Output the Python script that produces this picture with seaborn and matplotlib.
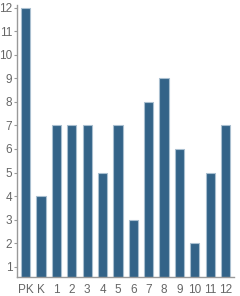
import matplotlib
matplotlib.use("Agg")
import matplotlib.pyplot as plt
import seaborn as sns
import pandas as pd

grades = ["PK", "K", "1", "2", "3", "4", "5", "6", "7", "8", "9", "10", "11", "12"]
students = [12, 4, 7, 7, 7, 5, 7, 3, 8, 9, 6, 2, 5, 7]
yticks = list(range(1, 13))

df = pd.DataFrame({"grade": grades, "students": students})

sns.set_style("white")
plt.rcParams["font.family"] = ["Liberation Sans", "DejaVu Sans"]

fig = plt.figure(figsize=(2.4, 2.96), dpi=100)
ax = fig.add_axes([0.072, 0.065, 0.903, 0.918])

sns.barplot(data=df, x="grade", y="students", order=grades, color="#336388",
            saturation=1, width=0.6, edgecolor="#a9bfd0", linewidth=0.8, ax=ax)

ax.set_xlim(-0.55, 13.55)
ax.set_ylim(0.575, 12.11)
ax.set_yticks(yticks)
ax.set_yticklabels([str(t) for t in yticks])
ax.set_xlabel("")
ax.set_ylabel("")

for s in ["top", "right"]:
    ax.spines[s].set_visible(False)
for s in ["left", "bottom"]:
    ax.spines[s].set_color("#999999")
    ax.spines[s].set_linewidth(1)

ax.tick_params(axis="y", which="major", left=True, length=2.5, width=0.8,
               color="#999999", labelsize=8.5, labelcolor="#666666", pad=1)
ax.tick_params(axis="x", which="major", bottom=False, labelsize=8.5,
               labelcolor="#666666", pad=2)

fig.savefig("out.png", dpi=100)
